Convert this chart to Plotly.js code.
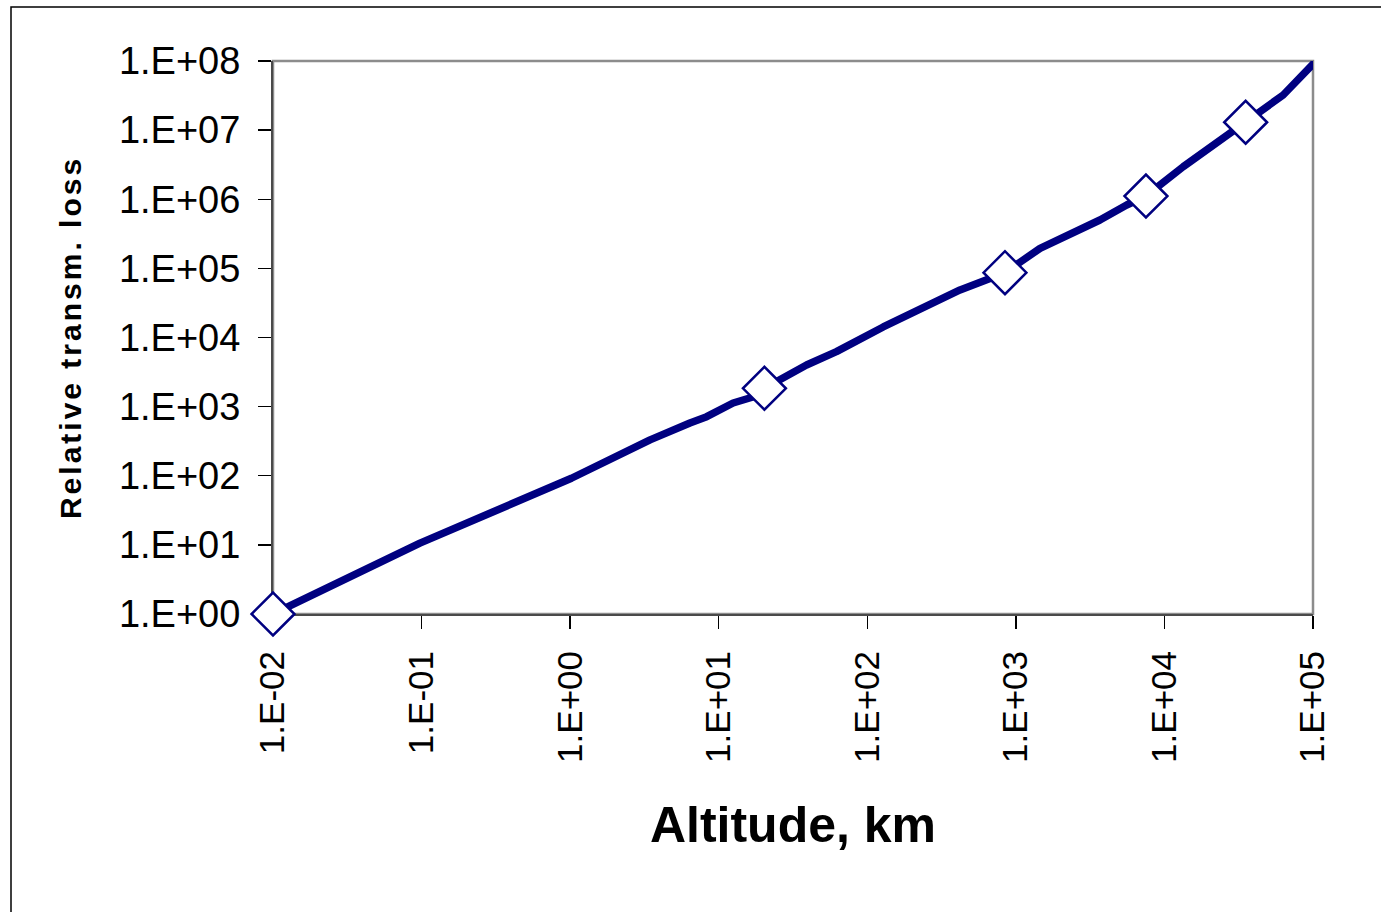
<!DOCTYPE html>
<html>
<head>
<meta charset="utf-8">
<script src="https://cdn.plot.ly/plotly-3.0.1.min.js"></script>
<style>
  html, body { margin: 0; padding: 0; background: #ffffff; }
  #chart { width: 1381px; height: 912px; }
  .g-ytitle text { letter-spacing: 3px; }
  .scatterlayer .js-line { stroke-linecap: round; stroke-linejoin: round; }
</style>
</head>
<body>
<div id="chart"></div>
<script>
// Altitude (km) and relative transmission loss along the curve
const altitudeKm = [0.01, 0.0975, 1.02, 3.45, 6.4, 8.3, 12.5, 17, 20.3, 39, 62, 99, 128, 421, 601, 845,
                    1455, 3680, 5570, 7510, 13400, 27600, 35200, 63000, 100000];
const relLoss = [1, 10.6, 92, 330, 580, 715, 1128, 1378, 1841, 4000, 6240, 10870, 14200, 48700, 64200, 86600,
                 195000, 501000, 826000, 1114000, 2960000, 9000000, 13000000, 32200000, 90500000];

// Highlighted points (diamond markers)
const markerAltKm = [0.01, 20.3, 845, 7510, 35200];
const markerLoss = [1, 1841, 86600, 1114000, 13000000];

// Tick labels
const xTickVals = [1e-2, 1e-1, 1e0, 1e1, 1e2, 1e3, 1e4, 1e5];
const xTickText = ["1.E-02", "1.E-01", "1.E+00", "1.E+01", "1.E+02", "1.E+03", "1.E+04", "1.E+05"];
const yTickVals = [1e0, 1e1, 1e2, 1e3, 1e4, 1e5, 1e6, 1e7, 1e8];
const yTickText = ["1.E+00", "1.E+01", "1.E+02", "1.E+03", "1.E+04", "1.E+05", "1.E+06", "1.E+07", "1.E+08"];

const navy = "#000080";
const fontFam = "'Liberation Sans', Arial, Helvetica, sans-serif";

const W = 1381, H = 912;
const L = 273, R = 1381 - 1313, T = 61, B = 912 - 614;
const pw = W - L - R, ph = H - T - B;
// paper coordinates helpers
const px = x => (x - L) / pw;
const py = y => (H - B - y) / ph;

const traces = [
  {
    x: altitudeKm, y: relLoss, type: "scatter", mode: "lines",
    line: { color: navy, width: 7.5, shape: "linear" },
    hoverinfo: "skip", showlegend: false, cliponaxis: false
  },
  {
    x: markerAltKm, y: markerLoss, type: "scatter", mode: "markers",
    marker: { symbol: "diamond", size: 33, color: "#ffffff", line: { color: navy, width: 2.5 } },
    showlegend: false, cliponaxis: false
  }
];

const layout = {
  width: W, height: H,
  margin: { l: L, r: R, t: T, b: B, pad: 0 },
  paper_bgcolor: "#ffffff", plot_bgcolor: "#ffffff",
  showlegend: false,
  font: { family: fontFam, color: "#000000" },
  xaxis: {
    type: "log", range: [-2, 5], autorange: false,
    tickmode: "array", tickvals: xTickVals, ticktext: xTickText,
    tickangle: -90, tickfont: { size: 35, family: fontFam, color: "#000" },
    ticks: "outside", ticklen: 13, tickwidth: 1.3, tickcolor: "#000",
    showgrid: false, zeroline: false, layer: "below traces",
    showline: true, linecolor: "#4a4a4a", linewidth: 2,
    ticklabelstandoff: 8,
    title: { text: "Altitude, km", font: { size: 50, family: fontFam, weight: "bold", color: "#000" }, standoff: 45 }
  },
  yaxis: {
    type: "log", range: [0, 8], autorange: false,
    tickmode: "array", tickvals: yTickVals, ticktext: yTickText,
    tickfont: { size: 38, family: fontFam, color: "#000" },
    ticks: "outside", ticklen: 13, tickwidth: 1.3, tickcolor: "#000",
    showgrid: false, zeroline: false, layer: "below traces",
    showline: true, linecolor: "#4a4a4a", linewidth: 2,
    ticklabelstandoff: 10,
    title: { text: "Relative transm. loss", font: { size: 30, family: fontFam, weight: "bold", color: "#000" }, standoff: 28 }
  },
  shapes: [
    // gray plot-area frame
    { type: "rect", xref: "paper", yref: "paper", x0: 0, x1: 1, y0: 0, y1: 1,
      line: { color: "#8c8c8c", width: 2.5 }, fillcolor: "rgba(0,0,0,0)", layer: "below" },
    // outer chart border (left and top visible)
    { type: "rect", xref: "paper", yref: "paper",
      x0: px(11), x1: px(1400), y0: py(930), y1: py(7),
      line: { color: "#000000", width: 1.5 }, fillcolor: "rgba(0,0,0,0)", layer: "below" }
  ]
};

Plotly.newPlot("chart", traces, layout, { staticPlot: true, displayModeBar: false });
</script>
</body>
</html>
